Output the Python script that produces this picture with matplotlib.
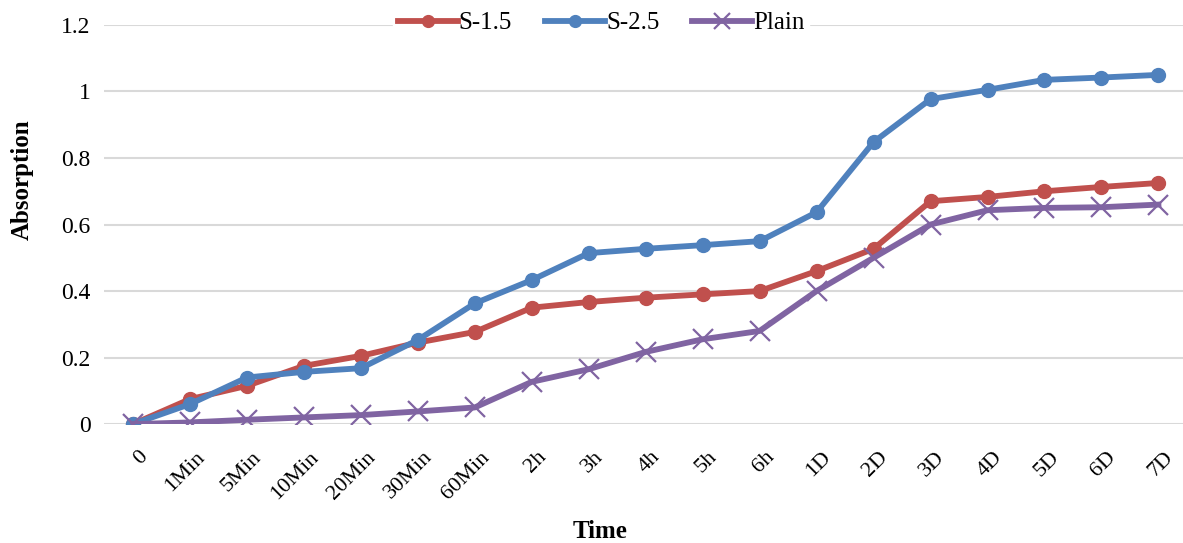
import numpy as np
import matplotlib.pyplot as plt

plt.rcParams['font.family'] = ['Liberation Serif', 'DejaVu Serif']

# Data ----------------------------------------------------------------
times = ["0", "1Min", "5Min", "10Min", "20Min", "30Min", "60Min", "2h", "3h",
         "4h", "5h", "6h", "1D", "2D", "3D", "4D", "5D", "6D", "7D"]

s15 = [0, 0.075, 0.115, 0.175, 0.205, 0.245, 0.277, 0.35, 0.367, 0.38,
       0.39, 0.40, 0.46, 0.527, 0.67, 0.683, 0.70, 0.713, 0.725]
s25 = [0, 0.06, 0.14, 0.157, 0.168, 0.253, 0.363, 0.433, 0.514, 0.527,
       0.538, 0.55, 0.637, 0.848, 0.977, 1.005, 1.035, 1.042, 1.05]
plain = [0, 0.005, 0.013, 0.02, 0.027, 0.038, 0.05, 0.127, 0.165, 0.217,
         0.255, 0.28, 0.40, 0.50, 0.60, 0.643, 0.65, 0.652, 0.66]

x = np.arange(len(times))

# Plot ----------------------------------------------------------------
fig = plt.figure(figsize=(11.83, 5.43), dpi=100)
ax = fig.add_axes([0.0883, 0.219, 0.915, 0.735])

ax.plot(x, s15, color="#C0504D", lw=4.2, marker="o", ms=10, label="S-1.5")
ax.plot(x, s25, color="#4F81BD", lw=4.2, marker="o", ms=10, label="S-2.5")
ax.plot(x, plain, color="#8064A2", lw=4.2, marker="x", ms=14, mew=1.6,
        label="Plain")

ax.set_xlim(-0.5, len(times) - 0.5)
ax.set_ylim(0, 1.2)
ax.set_yticks([0, 0.2, 0.4, 0.6, 0.8, 1.0, 1.2])
ax.set_yticklabels(["0", "0.2", "0.4", "0.6", "0.8", "1", "1.2"], fontsize=17)
ax.set_xticks(x)
ax.set_xticklabels(times, rotation=45, ha="right", rotation_mode="anchor",
                   fontsize=16)
ax.tick_params(length=0, pad=10)
ax.tick_params(axis="x", pad=17)
ax.grid(axis="y", color="#D9D9D9", lw=1.5)
ax.set_axisbelow(True)
for s in ax.spines.values():
    s.set_visible(False)

# shift the rotated category labels a little to the right of each tick
import matplotlib.transforms as mtransforms
offset = mtransforms.ScaledTranslation(5 / 100, 0, fig.dpi_scale_trans)
for lbl in ax.get_xticklabels():
    lbl.set_transform(lbl.get_transform() + offset)

fig.text(22 / 1183, 1 - 180 / 543, "Absorption", rotation=90, fontsize=18,
         fontweight="bold", ha="center", va="center")
fig.text(600 / 1183, 1 - 532 / 543, "Time", fontsize=18, fontweight="bold",
         ha="center", va="center")

leg = ax.legend(loc="center", bbox_to_anchor=(601 / 1183, 1 - 23 / 543),
                bbox_transform=fig.transFigure, ncol=3, frameon=True,
                fontsize=18, handlelength=2.4, columnspacing=1.3,
                handletextpad=0.05, borderpad=0.2, markerscale=0.85)
leg.get_frame().set_edgecolor("white")
leg.get_frame().set_facecolor("white")
leg.get_frame().set_alpha(1)

fig.savefig("out.png", dpi=100)
